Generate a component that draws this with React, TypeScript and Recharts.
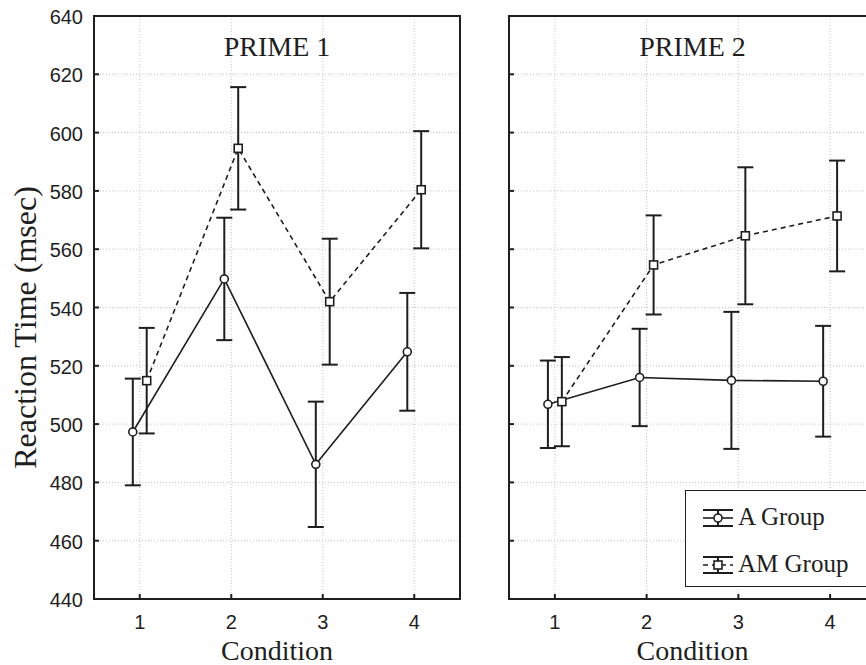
import React from 'react';
import {
  LineChart,
  Line,
  XAxis,
  YAxis,
  CartesianGrid,
  ErrorBar,
  ReferenceArea,
} from 'recharts';

// ---------- data ----------
const conditions = [1, 2, 3, 4];
const yTicks = [440, 460, 480, 500, 520, 540, 560, 580, 600, 620, 640];
const panelTitles = ['PRIME 1', 'PRIME 2'];
const seriesNames = ['A Group', 'AM Group'];
const xAxisTitle = 'Condition';
const yAxisTitle = 'Reaction Time (msec)';

const prime1A = [497.3, 549.8, 486.2, 524.8];
const prime1AErr = [18.3, 21.0, 21.5, 20.2];
const prime1AM = [514.9, 594.6, 542.0, 580.4];
const prime1AMErr = [18.1, 21.0, 21.6, 20.1];

const prime2A = [506.8, 516.0, 515.0, 514.7];
const prime2AErr = [15.0, 16.7, 23.5, 19.0];
const prime2AM = [507.7, 554.6, 564.6, 571.4];
const prime2AMErr = [15.3, 17.0, 23.5, 19.0];

// ---------- style ----------
const X_DOMAIN: [number, number] = [0.5, 4.5];
const Y_DOMAIN: [number, number] = [440, 640];
const GROUP_SHIFT = 0.076;
const INK = '#1e1e1e';
const SANS = '"Liberation Sans", Arial, sans-serif';
const SERIF = '"Liberation Serif", "Times New Roman", serif';
const CHART_H = 665;

const build = (vals: number[], errs: number[], shift: number) =>
  conditions.map((c, i) => ({ x: c + shift, y: vals[i], err: errs[i] }));

const CircleDot = (p: any) =>
  p.cx == null ? null : (
    <circle key={`c-${p.index}`} cx={p.cx} cy={p.cy} r={4} fill="#fff" stroke={INK} strokeWidth={1.6} />
  );
const SquareDot = (p: any) =>
  p.cx == null ? null : (
    <rect
      key={`s-${p.index}`}
      x={p.cx - 4}
      y={p.cy - 4}
      width={8}
      height={8}
      fill="#fff"
      stroke={INK}
      strokeWidth={1.6}
    />
  );

const BOTTOM_MARGIN = 16;
const BottomTick = (p: any) => {
  const axisY = p.y - BOTTOM_MARGIN;
  return (
    <g>
      <line x1={p.x} x2={p.x} y1={axisY} y2={axisY - 5} stroke={INK} strokeWidth={2} />
      <text x={p.x} y={p.y} dy="0.71em" textAnchor="middle" fontFamily={SANS} fontSize={20} fill={INK}>
        {p.payload.value}
      </text>
    </g>
  );
};
const TopTick = (p: any) => (
  <line x1={p.x} x2={p.x} y1={p.y} y2={p.y + 5} stroke={INK} strokeWidth={2} />
);
const LEFT_MARGIN = 11;
const LeftTickLabeled = (p: any) => (
  <g>
    <line x1={p.x + LEFT_MARGIN} x2={p.x + LEFT_MARGIN + 5} y1={p.y} y2={p.y} stroke={INK} strokeWidth={2} />
    <text x={p.x} y={p.y} dy="0.4em" textAnchor="end" fontFamily={SANS} fontSize={20} fill={INK}>
      {p.payload.value}
    </text>
  </g>
);
const LeftTickPlain = (p: any) => (
  <line x1={p.x} x2={p.x + 5} y1={p.y} y2={p.y} stroke={INK} strokeWidth={2} />
);

const YTitle = (p: any) => {
  const vb = p.viewBox || { x: 0, y: 16, width: 94, height: 583 };
  const cx = vb.x + 25;
  const cy = vb.y + vb.height / 2 + 20;
  return (
    <text
      x={cx}
      y={cy}
      transform={`rotate(-90, ${cx}, ${cy})`}
      textAnchor="middle"
      dominantBaseline="central"
      fontFamily={SERIF}
      fontSize={32}
      fill={INK}
    >
      {yAxisTitle}
    </text>
  );
};

const LegendIcon = ({ dashed, square }: { dashed: boolean; square: boolean }) => (
  <svg width={34} height={22} style={{ position: 'absolute', left: 15, top: -11 }}>
    <line x1={2} x2={32} y1={3} y2={3} stroke={INK} strokeWidth={2} />
    <line x1={2} x2={32} y1={19} y2={19} stroke={INK} strokeWidth={2} />
    <line x1={17} x2={17} y1={3} y2={19} stroke={INK} strokeWidth={2} />
    <line
      x1={2}
      x2={32}
      y1={11}
      y2={11}
      stroke={INK}
      strokeWidth={1.6}
      strokeDasharray={dashed ? '5 4' : undefined}
    />
    {square ? (
      <rect x={13} y={7} width={8} height={8} fill="#fff" stroke={INK} strokeWidth={1.6} />
    ) : (
      <circle cx={17} cy={11} r={4} fill="#fff" stroke={INK} strokeWidth={1.6} />
    )}
  </svg>
);

const LegendBox = () => (
  <div
    style={{
      position: 'absolute',
      left: 685,
      top: 490,
      width: 190,
      height: 97,
      boxSizing: 'border-box',
      border: `1.5px solid ${INK}`,
      background: '#fff',
      fontFamily: SERIF,
      fontSize: 25,
      color: INK,
    }}
  >
    {seriesNames.map((name, i) => (
      <div key={name} style={{ position: 'absolute', left: 0, top: i === 0 ? 27 : 74, height: 0 }}>
        <LegendIcon dashed={i === 1} square={i === 1} />
        <span
          style={{
            position: 'absolute',
            left: 52,
            top: -15,
            whiteSpace: 'nowrap',
            lineHeight: '28px',
            fontFamily: SERIF,
          }}
        >
          {name}
        </span>
      </div>
    ))}
  </div>
);

type PanelProps = {
  idx: number;
  a: number[];
  aErr: number[];
  am: number[];
  amErr: number[];
  left: number;
  width: number;
  yAxisWidth: number;
  labeled: boolean;
};

const Panel = ({ idx, a, aErr, am, amErr, left, width, yAxisWidth, labeled }: PanelProps) => {
  const aData = build(a, aErr, -GROUP_SHIFT);
  const amData = build(am, amErr, GROUP_SHIFT);
  return (
    <div style={{ position: 'absolute', left, top: 0 }}>
      <LineChart width={width} height={CHART_H} margin={{ top: 16, right: 10, bottom: 0, left: 0 }}>
        <CartesianGrid stroke="#c4c4c4" strokeDasharray="1 2" strokeWidth={1} />
        <XAxis
          xAxisId={0}
          type="number"
          dataKey="x"
          domain={X_DOMAIN}
          ticks={conditions}
          allowDataOverflow
          height={66}
          axisLine={false}
          tickSize={0}
          tickMargin={BOTTOM_MARGIN}
          tick={<BottomTick />}
          label={{ value: xAxisTitle, position: 'insideBottom', offset: 5, fontSize: 28, fontFamily: SERIF, fill: INK }}
        />
        <XAxis
          xAxisId="top"
          orientation="top"
          type="number"
          domain={X_DOMAIN}
          ticks={conditions}
          allowDataOverflow
          height={0}
          axisLine={false}
          tickSize={0}
          tickMargin={0}
          tick={<TopTick />}
        />
        <YAxis
          type="number"
          domain={Y_DOMAIN}
          ticks={yTicks}
          allowDataOverflow
          width={yAxisWidth}
          axisLine={false}
          tickSize={0}
          tickMargin={labeled ? LEFT_MARGIN : 0}
          tick={labeled ? <LeftTickLabeled /> : <LeftTickPlain />}
          label={labeled ? { content: (p: any) => <YTitle {...p} /> } : undefined}
        />
        <ReferenceArea
          x1={X_DOMAIN[0]}
          x2={X_DOMAIN[1]}
          y1={Y_DOMAIN[0]}
          y2={Y_DOMAIN[1]}
          fill="none"
          fillOpacity={0}
          stroke={INK}
          strokeWidth={2}
          label={{
            value: panelTitles[idx],
            position: 'insideTop',
            offset: 20,
            fontSize: 28,
            fontFamily: SERIF,
            fill: INK,
          }}
        />
        <Line
          name={seriesNames[0]}
          data={aData}
          dataKey="y"
          type="linear"
          stroke={INK}
          strokeWidth={1.6}
          dot={CircleDot}
          activeDot={false}
          isAnimationActive={false}
        >
          <ErrorBar dataKey="err" width={8} stroke={INK} strokeWidth={2} direction="y" isAnimationActive={false} />
        </Line>
        <Line
          name={seriesNames[1]}
          data={amData}
          dataKey="y"
          type="linear"
          stroke={INK}
          strokeWidth={1.6}
          strokeDasharray="5 4"
          dot={SquareDot}
          activeDot={false}
          isAnimationActive={false}
        >
          <ErrorBar dataKey="err" width={8} stroke={INK} strokeWidth={2} direction="y" isAnimationActive={false} />
        </Line>
      </LineChart>
    </div>
  );
};

export default function App() {
  return (
    <div
      style={{
        position: 'absolute',
        left: 0,
        top: 0,
        width: 866,
        height: 665,
        overflow: 'hidden',
        background: '#fff',
      }}
    >
      <Panel
        idx={0}
        a={prime1A}
        aErr={prime1AErr}
        am={prime1AM}
        amErr={prime1AMErr}
        left={0}
        width={470}
        yAxisWidth={94}
        labeled
      />
      <Panel
        idx={1}
        a={prime2A}
        aErr={prime2AErr}
        am={prime2AM}
        amErr={prime2AMErr}
        left={466}
        width={420}
        yAxisWidth={43}
        labeled={false}
      />
      <LegendBox />
    </div>
  );
}
